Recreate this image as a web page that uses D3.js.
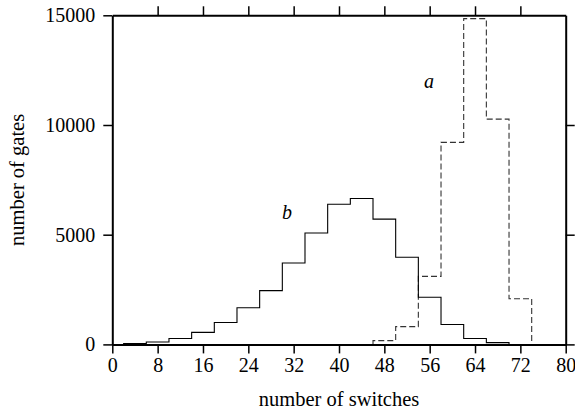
<!DOCTYPE html>
<html>
<head>
<meta charset="utf-8">
<script src="https://cdn.jsdelivr.net/npm/d3@7"></script>
<style>
  html, body { margin: 0; padding: 0; background: #fff; }
  svg { display: block; }
</style>
</head>
<body>
<svg id="chart" width="575" height="416"></svg>
<script>
// ---- data ----
const binWidth = 4;
const bCenters = [4, 8, 12, 16, 20, 24, 28, 32, 36, 40, 44, 48, 52, 56, 60, 64, 68];
const bValues  = [40, 110, 270, 550, 1000, 1670, 2450, 3710, 5080, 6390, 6650, 5710, 3970, 2150, 910, 270, 80];
const aCenters = [48, 52, 56, 60, 64, 68, 72];
const aValues  = [170, 810, 3100, 9210, 14850, 10270, 2080];
const xTicks = [0, 8, 16, 24, 32, 40, 48, 56, 64, 72, 80];
const yTicks = [0, 5000, 10000, 15000];
const xLabel = "number of switches";
const yLabel = "number of gates";

const FONT = "Liberation Serif";

// ---- layout ----
const svg = d3.select("#chart");
const x = d3.scaleLinear().domain([0, 80]).range([112.3, 565.7]);
const y = d3.scaleLinear().domain([0, 15000]).range([344.4, 15.3]);

function stepPoints(centers, values) {
  const pts = [];
  centers.forEach((c, i) => {
    const l = c - binWidth / 2, r = c + binWidth / 2;
    if (i === 0) pts.push([l, 0]);
    pts.push([l, values[i]]);
    pts.push([r, values[i]]);
    if (i === centers.length - 1) pts.push([r, 0]);
  });
  return pts;
}
const line = d3.line().x(d => x(d[0])).y(d => y(d[1]));

svg.append("path")
  .attr("d", line(stepPoints(aCenters, aValues)))
  .attr("fill", "none").attr("stroke", "#333").attr("stroke-width", 1.1)
  .attr("stroke-dasharray", "6,3");

svg.append("path")
  .attr("d", line(stepPoints(bCenters, bValues)))
  .attr("fill", "none").attr("stroke", "#000").attr("stroke-width", 1.1);

// ---- axes ----
function styleAxis(g) {
  g.attr("font-family", FONT).attr("font-size", 20);
  g.select(".domain").attr("stroke-width", 2).attr("stroke", "#000");
  g.selectAll(".tick line").attr("stroke-width", 1.5).attr("stroke", "#000");
  g.selectAll(".tick text").style("font-size", "20px").style("font-family", FONT).attr("fill", "#000");
}
const fmt = d3.format("d");
const gB = svg.append("g").attr("transform", `translate(0,${y(0)})`)
  .call(d3.axisBottom(x).tickValues(xTicks).tickFormat(fmt).tickSize(9).tickPadding(4).tickSizeOuter(0));
styleAxis(gB);
const gL = svg.append("g").attr("transform", `translate(${x(0)},0)`)
  .call(d3.axisLeft(y).tickValues(yTicks).tickFormat(fmt).tickSize(9).tickPadding(8).tickSizeOuter(0));
styleAxis(gL);
const gT = svg.append("g").attr("transform", `translate(0,${y(15000)})`)
  .call(d3.axisTop(x).tickValues(xTicks.slice(1, -1)).tickSize(9).tickFormat("").tickSizeOuter(0));
styleAxis(gT);
const gR = svg.append("g").attr("transform", `translate(${x(80)},0)`)
  .call(d3.axisRight(y).tickValues(yTicks.slice(0, -1)).tickSize(9).tickFormat("").tickSizeOuter(0));
styleAxis(gR);

// ---- titles ----
svg.append("text")
  .attr("x", (x(0) + x(80)) / 2).attr("y", 406)
  .attr("text-anchor", "middle").style("font-size", "20.5px").style("font-family", FONT)
  .text(xLabel);
svg.append("text")
  .attr("transform", `translate(24,${(y(0) + y(15000)) / 2}) rotate(-90)`)
  .attr("text-anchor", "middle").style("font-size", "20.5px").style("font-family", FONT)
  .text(yLabel);

// ---- series labels ----
svg.append("text").attr("x", 429).attr("y", 88)
  .attr("text-anchor", "middle").style("font-size", "20px").style("font-family", FONT)
  .style("font-style", "italic").text("a");
svg.append("text").attr("x", 287).attr("y", 219)
  .attr("text-anchor", "middle").style("font-size", "20px").style("font-family", FONT)
  .style("font-style", "italic").text("b");
</script>
</body>
</html>
